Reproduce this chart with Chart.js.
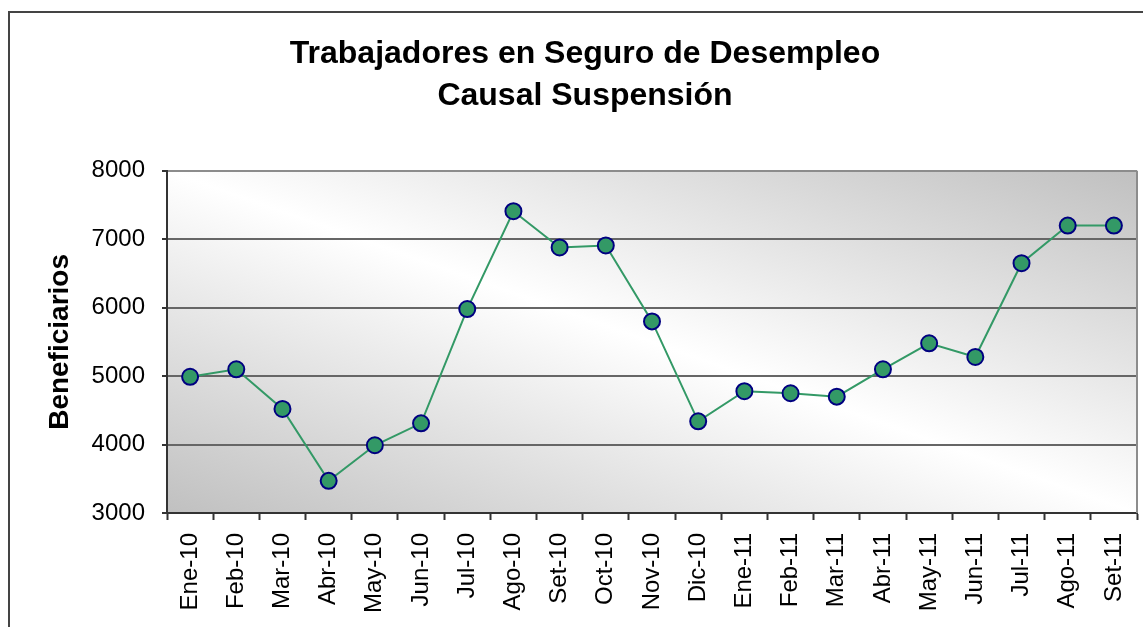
<!DOCTYPE html>
<html>
<head>
<meta charset="utf-8">
<script src="https://cdn.jsdelivr.net/npm/chart.js@4.4.1/dist/chart.umd.min.js"></script>
<style>
body{margin:0;background:#fff}
canvas{display:block}
</style>
</head>
<body>
<canvas id="chart" width="1143" height="627"></canvas>
<script>
const months=["Ene-10","Feb-10","Mar-10","Abr-10","May-10","Jun-10","Jul-10","Ago-10","Set-10","Oct-10","Nov-10","Dic-10","Ene-11","Feb-11","Mar-11","Abr-11","May-11","Jun-11","Jul-11","Ago-11","Set-11"]
const beneficiarios=[4990,5100,4520,3470,3990,4310,5980,7410,6880,6910,5800,4340,4780,4750,4700,5100,5480,5280,6650,7200,7200]
const titleLines=["Trabajadores en Seguro de Desempleo","Causal Suspensión"]
const yTitle="Beneficiarios"

const FONT="'Liberation Sans', Arial, sans-serif"

// plot background (diagonal gradient) + outer frame
const plotBg={
id:"plotBg",
beforeDraw(chart){
const {ctx,chartArea:a}=chart
ctx.save()
ctx.strokeStyle="#444"
ctx.lineWidth=2
ctx.strokeRect(9,12,1400,900)
ctx.translate(a.left,a.top)
ctx.scale(a.right-a.left,a.bottom-a.top)
const g=ctx.createLinearGradient(0,1,1,0)
g.addColorStop(0,"#c0c0c0")
g.addColorStop(0.5,"#ffffff")
g.addColorStop(1,"#c0c0c0")
ctx.fillStyle=g
ctx.fillRect(0,0,1,1)
ctx.restore()
},
beforeDatasetsDraw(chart){
const {ctx,chartArea:a}=chart
ctx.save()
ctx.strokeStyle="#8c8c8c"
ctx.lineWidth=2
ctx.beginPath()
ctx.moveTo(a.right,a.top)
ctx.lineTo(a.right,a.bottom)
ctx.stroke()
ctx.restore()
}
}

new Chart(document.getElementById("chart"),{
type:"line",
data:{
labels:months,
datasets:[{
data:beneficiarios,
borderColor:"#339966",
borderWidth:2,
backgroundColor:"#339966",
pointBackgroundColor:"#339966",
pointBorderColor:"#000080",
pointBorderWidth:2,
pointRadius:8,
tension:0
}]
},
options:{
responsive:false,
animation:false,
layout:{autoPadding:false,padding:{left:33,right:6,top:0,bottom:0}},
plugins:{
legend:{display:false},
tooltip:{enabled:false},
title:{
display:true,
text:titleLines,
color:"#000",
font:{family:FONT,size:32,weight:"bold",lineHeight:1.31},
padding:{top:33,bottom:54}
}
},
scales:{
x:{
offset:true,
grid:{offset:true,drawOnChartArea:false,tickLength:7,tickColor:"#333",tickWidth:2},
border:{color:"#333",width:2},
ticks:{autoSkip:false,maxRotation:90,minRotation:90,padding:13,color:"#000",font:{family:FONT,size:24}},
afterFit:s=>{s.height=114;s.paddingLeft=0;s.paddingRight=0}
},
y:{
min:3000,
max:8000,
grid:{
color:c=>c.tick&&c.tick.value===8000?"#8c8c8c":"#666",
lineWidth:2,
tickLength:5,
tickColor:"#333"
},
border:{color:"#333",width:2},
ticks:{stepSize:1000,padding:17,color:"#000",font:{family:FONT,size:24},callback:v=>String(v)},
title:{display:true,text:yTitle,color:"#000",font:{family:FONT,size:28,weight:"bold"},padding:{top:10}},
afterFit:s=>{s.width=134}
}
}
},
plugins:[plotBg]
})
</script>
</body>
</html>
